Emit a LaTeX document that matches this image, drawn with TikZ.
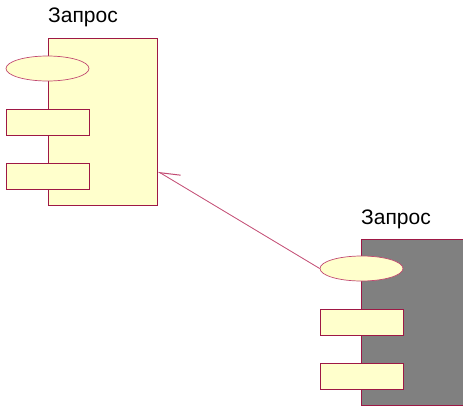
\documentclass[tikz,border=0pt]{standalone}
\usepackage{fontspec}
\setmainfont{Liberation Sans}
\usetikzlibrary{arrows.meta,shapes.geometric}
\definecolor{fillY}{HTML}{FFFFCC}
\definecolor{edgeR}{HTML}{9E1845}
\definecolor{wireR}{HTML}{C24A72}
\definecolor{bodyG}{HTML}{808080}
\tikzset{
  body/.style={draw=edgeR, line width=1pt, anchor=north west, inner sep=0pt},
  iface/.style={draw=edgeR, line width=0.8pt, fill=fillY, anchor=north west,
    minimum width=83pt, minimum height=26pt, inner sep=0pt},
  port/.style={ellipse, draw=wireR, line width=0.7pt, fill=fillY,
    minimum width=83pt, minimum height=25pt, inner sep=0pt},
  title/.style={anchor=base west, inner sep=0pt, font=\fontsize{21}{25}\selectfont}
}
\begin{document}
\begin{tikzpicture}[x=1pt, y=-1pt]
\useasboundingbox (0,0) rectangle (463,407);
% first component
\node[body, fill=fillY, minimum width=109pt, minimum height=167pt] (bodyA) at (48,38) {};
\node[port] (portA) at (47.5,68.5) {};
\node[iface] (ifA1) at (6,109) {};
\node[iface] (ifA2) at (6,162.5) {};
\node[title] (titleA) at (48,22.7) {Запрос};
% second component
\node[body, fill=bodyG, minimum width=103pt, minimum height=166pt] (bodyB) at (361,239) {};
\node[port] (portB) at (361.5,268.5) {};
\node[iface] (ifB1) at (319.5,309) {};
\node[iface] (ifB2) at (319.5,362.5) {};
\node[title] (titleB) at (361,224) {Запрос};
% dependency
\coordinate (tipA) at ([yshift=-49.5pt]bodyA.east);
\draw[wireR, line width=0.8pt, -{Straight Barb[right, length=19pt, width=17pt, line width=1pt]}]
  (portB.west) -- (tipA);
\end{tikzpicture}
\end{document}
